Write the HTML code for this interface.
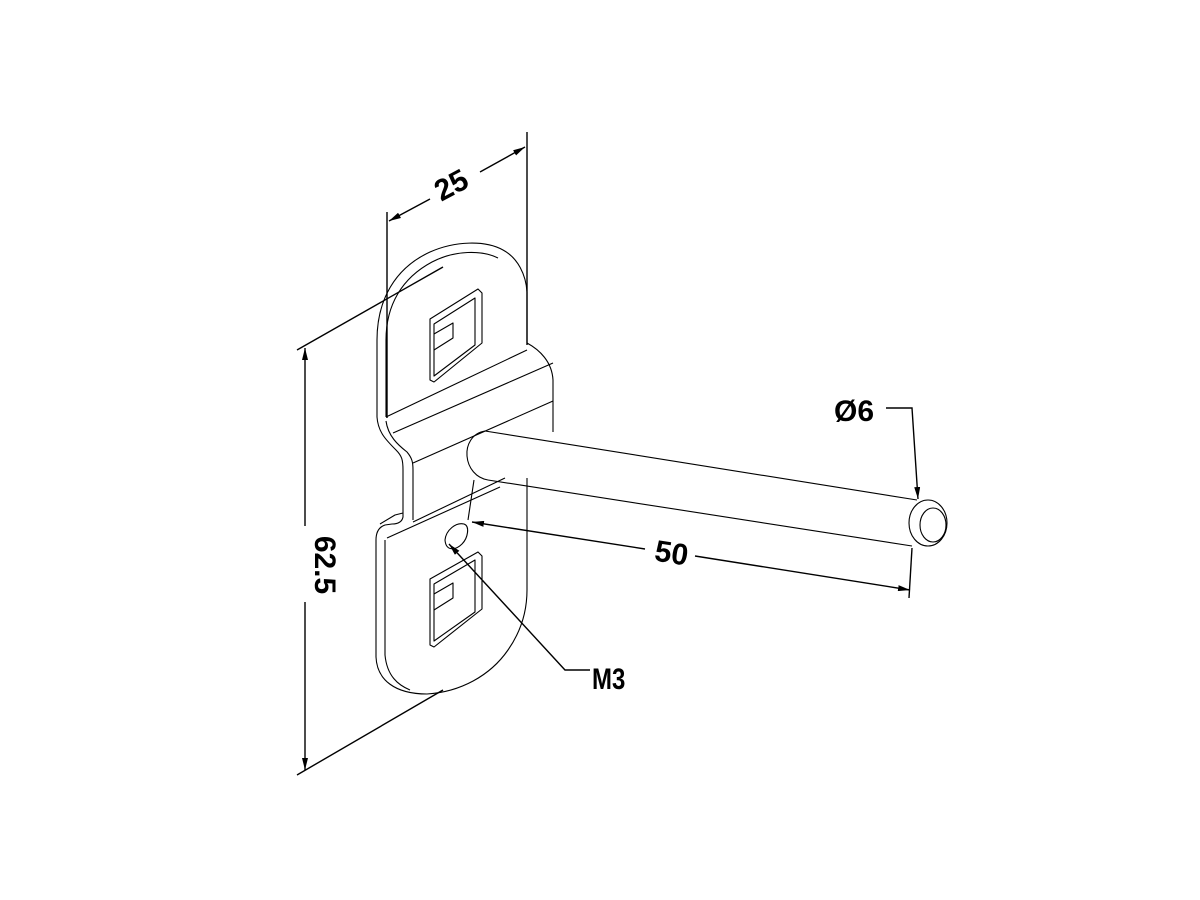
<!DOCTYPE html>
<html><head><meta charset="utf-8"><style>
html,body{margin:0;padding:0;background:#fff;}
svg{display:block}
text{font-family:"Liberation Sans",sans-serif;font-weight:bold;fill:#000}
</style></head><body>
<svg width="1200" height="900" viewBox="0 0 1200 900" xmlns="http://www.w3.org/2000/svg">
<defs>
<marker id="a" viewBox="0 0 12 6" refX="12" refY="3" markerWidth="12" markerHeight="6" orient="auto-start-reverse" markerUnits="userSpaceOnUse">
<path d="M0,0 L12,3 L0,6 z" fill="#000"/></marker>
</defs>
<g fill="none" stroke="#000" stroke-width="1.1" stroke-linejoin="round">
<path d="M377,417 L377,340 C377,300 395,268 430,252 C455,241 485,240 503,250 C518,258 526,275 527,292 L527,343 C540,350 552,362 553,380 L553,432"/>
<path d="M386,417 L386,340 C386,305 402,278 432,262 C455,250 482,250 498,258"/>
<path d="M377,417 C378,432 386,440 396,450 C402,456 403,460 403,470 L403,517 C402,522 398,524 392,524 L385,525 C379,527 376,532 376,540 L376,657 C377,680 395,694 427,694 C460,692 490,676 508,650 C522,630 527,610 527,590 L527,478"/>
<path d="M386,421 C388,436 398,445 407,452 C412,458 413,462 413,470 L413,520"/>
<path d="M385,540 L385,655 C387,676 398,685 410,690"/>
<path d="M380,524 L395,515 L403,513"/>
<line x1="386" y1="417" x2="527" y2="350"/>
<line x1="393" y1="433" x2="553" y2="363"/>
<line x1="413" y1="463" x2="553" y2="401"/>
<line x1="413" y1="522" x2="505" y2="478"/>
<line x1="387" y1="538" x2="500" y2="487"/>
<path d="M430,319 L478,289 L482,293 L482,343 L434,382 L430,380 Z"/>
<path d="M434,324 L475,298 L475,345 L434,376 Z"/>
<path d="M434,334 L453,323 L453,338 L434,350"/>
<path d="M430,579 L478,552 L482,556 L482,609 L434,647 L430,645 Z"/>
<path d="M434,584 L475,560 L475,612 L434,641 Z"/>
<path d="M434,594 L453,583 L453,598 L434,610"/>
<path d="M445,540 C446,530 456,522 464,524 C470,526 468,538 462,544 C456,550 446,552 445,540 Z"/>
<path d="M485,431 L917,500"/>
<path d="M488,480 L912,546"/>
<path d="M485,431 C472,433 466,445 467,456 C468,468 476,478 488,480"/>
<path d="M474,480 L468,520"/>
<ellipse cx="928" cy="523" rx="19" ry="23"/>
<ellipse cx="933" cy="525" rx="13" ry="17"/>
</g>
<g fill="none" stroke="#000" stroke-width="1.4">
<line x1="387" y1="212" x2="387" y2="418"/>
<line x1="527" y1="132" x2="527" y2="345"/>
<line x1="389" y1="221" x2="430" y2="199" marker-start="url(#a)"/>
<line x1="480" y1="172" x2="525" y2="147" marker-end="url(#a)"/>
<line x1="297" y1="350" x2="443" y2="267"/>
<line x1="297" y1="775" x2="443" y2="690"/>
<line x1="305" y1="348" x2="305" y2="526" marker-start="url(#a)"/>
<line x1="305" y1="602" x2="305" y2="770" marker-end="url(#a)"/>
<line x1="472" y1="522" x2="645" y2="549" marker-start="url(#a)"/>
<line x1="695" y1="556" x2="910" y2="590" marker-end="url(#a)"/>
<line x1="912" y1="548" x2="909" y2="598"/>
<polyline points="886,408 912,408 918,499" marker-end="url(#a)"/>
<polyline points="590,670 565,670 449,544" marker-end="url(#a)"/>
</g>
<text x="0" y="0" font-size="30" transform="translate(456,194) rotate(-28)" text-anchor="middle">25</text>
<text x="0" y="0" font-size="30" transform="translate(315,565) rotate(90)" text-anchor="middle">62.5</text>
<text x="0" y="0" font-size="30" transform="translate(670,563) rotate(9)" text-anchor="middle">50</text>
<text x="834" y="421" font-size="30">Ø6</text>
<text x="592" y="689" font-size="30" transform="translate(592,0) scale(0.8,1) translate(-592,0)">M3</text>
</svg>
</body></html>
